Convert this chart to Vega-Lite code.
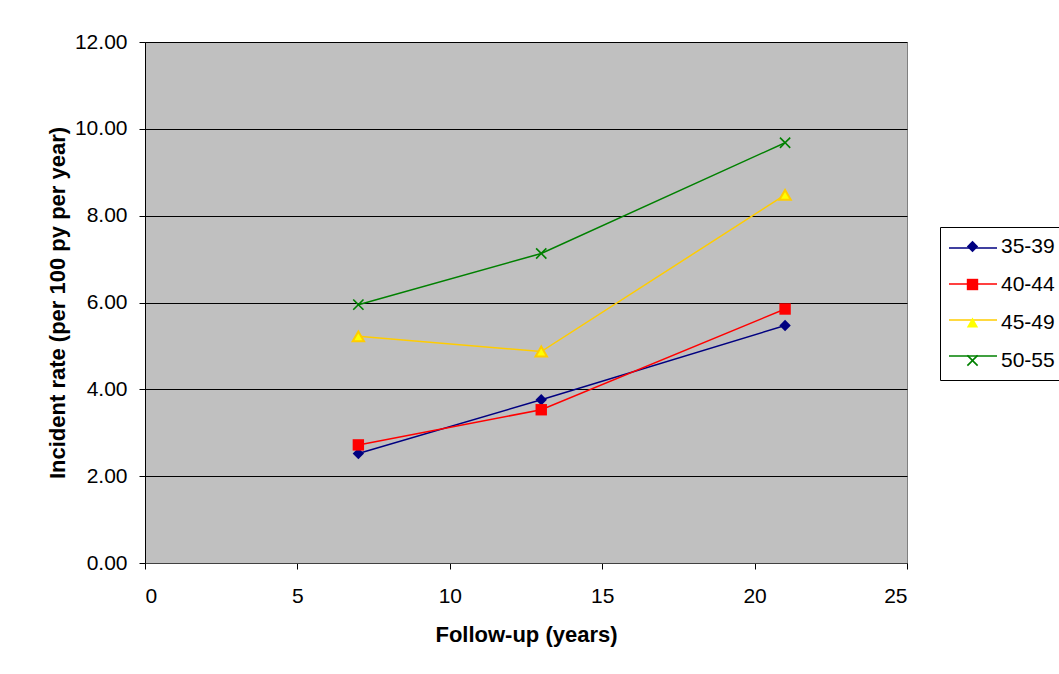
{
  "$schema": "https://vega.github.io/schema/vega-lite/v6.json",
  "width": 762,
  "height": 521,
  "autosize": {"type": "none"},
  "padding": {"left": 145, "top": 42, "right": 152, "bottom": 111},
  "background": "white",
  "config": {
    "view": {"fill": "#C0C0C0", "stroke": "#808080", "strokeWidth": 1},
    "font": "Liberation Sans"
  },
  "data": {
    "values": [
      {"series": "35-39", "year": 7, "rate": 2.52},
      {"series": "35-39", "year": 13, "rate": 3.76},
      {"series": "35-39", "year": 21, "rate": 5.47},
      {"series": "40-44", "year": 7, "rate": 2.72},
      {"series": "40-44", "year": 13, "rate": 3.53},
      {"series": "40-44", "year": 21, "rate": 5.85},
      {"series": "45-49", "year": 7, "rate": 5.22},
      {"series": "45-49", "year": 13, "rate": 4.87},
      {"series": "45-49", "year": 21, "rate": 8.48},
      {"series": "50-55", "year": 7, "rate": 5.95},
      {"series": "50-55", "year": 13, "rate": 7.13},
      {"series": "50-55", "year": 21, "rate": 9.68}
    ]
  },
  "encoding": {
    "x": {
      "field": "year", "type": "quantitative",
      "scale": {"domain": [0, 25], "nice": false},
      "axis": {
        "values": [0, 5, 10, 15, 20, 25], "grid": false,
        "tickSize": 6, "tickColor": "#000", "domainColor": "#404040",
        "labelFontSize": 21, "labelColor": "#000", "labelPadding": 16,
        "title": "Follow-up (years)", "titleFontSize": 22, "titleFontWeight": "bold",
        "titleColor": "#000", "titlePadding": 18
      }
    },
    "y": {
      "field": "rate", "type": "quantitative",
      "scale": {"domain": [0, 12], "nice": false},
      "axis": {
        "values": [0, 2, 4, 6, 8, 10, 12], "format": ".2f", "grid": true,
        "gridColor": "#000", "gridWidth": 1,
        "tickSize": 6, "tickColor": "#000", "domainColor": "#000",
        "labelFontSize": 21, "labelColor": "#000", "labelPadding": 12,
        "title": "Incident rate (per 100 py per year)", "titleFontSize": 22,
        "titleFontWeight": "bold", "titleColor": "#000", "titlePadding": 5
      }
    }
  },
  "layer": [
    {
      "mark": {"type": "line", "strokeWidth": 1.5},
      "encoding": {
        "stroke": {
          "field": "series", "type": "nominal",
          "scale": {"domain": ["35-39", "40-44", "45-49", "50-55"], "range": ["#000080", "#FF0000", "#FFCC00", "#008000"]},
          "legend": {
            "title": null, "orient": "none", "legendX": 803, "legendY": 181,
            "symbolType": "stroke", "symbolSize": 2304, "symbolStrokeWidth": 1.5,
            "labelExpr": "''", "labelFontSize": 21, "labelOffset": 0,
            "padding": 0, "rowPadding": 1
          }
        }
      }
    },
    {
      "mark": {"type": "point", "filled": true, "size": 130, "opacity": 1},
      "encoding": {
        "fill": {
          "field": "series", "type": "nominal",
          "scale": {"range": ["#000080", "#FF0000", "#FFFF00", "#008000"]},
          "legend": {
            "title": null, "orient": "none", "legendX": 795, "legendY": 185,
            "symbolSize": 130, "symbolOffset": 13, "labelFontSize": 21, "labelColor": "#000", "labelOffset": 18,
            "strokeColor": "#000", "padding": 9, "rowPadding": 16
          }
        },
        "shape": {
          "field": "series", "type": "nominal",
          "scale": {"range": ["diamond", "square", "triangle-up", "M-1,-0.8L-0.8,-1L0,-0.2L0.8,-1L1,-0.8L0.2,0L1,0.8L0.8,1L0,0.2L-0.8,1L-1,0.8L-0.2,0Z"]},
          "legend": {
            "title": null, "orient": "none", "legendX": 795, "legendY": 185,
            "symbolSize": 130, "symbolOffset": 13, "labelFontSize": 21, "labelColor": "#000", "labelOffset": 18,
            "strokeColor": "#000", "padding": 9, "rowPadding": 16
          }
        },
        "stroke": {"condition": {"test": "datum.series === '45-49'", "value": "#FFCC00"}, "value": "transparent"}
      }
    }
  ]
}
